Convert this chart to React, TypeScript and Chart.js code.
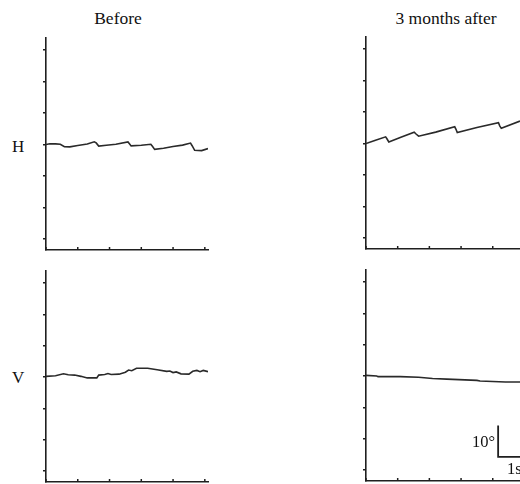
import React, { useEffect, useRef } from "react";
import { Chart, registerables } from "chart.js";

Chart.register(...registerables);

// ---- data ----
const xTicks = [0, 1, 2, 3, 4, 5]; // seconds
const yTicks = [-30, -20, -10, 0, 10, 20, 30]; // degrees

const beforeH_t = [0, 0.12, 0.3, 0.45, 0.58, 0.75, 1.0, 1.3, 1.52, 1.58, 1.66, 1.9, 2.2, 2.58, 2.62, 2.68, 3.0, 3.3, 3.35, 3.42, 3.7, 4.0, 4.3, 4.55, 4.6, 4.68, 4.9, 5.1];
const beforeH_v = [0, 0.25, 0.2, 0.05, -0.7, -0.75, -0.3, 0.15, 0.85, 0.5, -0.5, -0.25, 0.05, 0.8, 0.3, -0.45, -0.25, 0.05, -0.6, -1.55, -1.2, -0.65, -0.2, 0.45, -0.4, -1.85, -1.95, -1.3];

const afterH_t = [0, 0.3, 0.62, 0.66, 0.72, 1.1, 1.52, 1.58, 1.66, 2.2, 2.8, 2.84, 2.88, 3.5, 4.18, 4.22, 4.27, 4.86];
const afterH_v = [0, 1.0, 2.1, 1.5, 0.5, 2.0, 3.6, 3.0, 2.3, 3.6, 5.3, 4.5, 3.5, 5.1, 6.6, 5.6, 4.8, 7.1];

const beforeV_t = [0, 0.3, 0.55, 0.7, 0.9, 1.1, 1.3, 1.6, 1.66, 1.85, 1.95, 2.05, 2.3, 2.5, 2.6, 2.7, 2.85, 3.2, 3.5, 3.8, 3.9, 4.0, 4.1, 4.25, 4.5, 4.62, 4.75, 4.85, 4.95, 5.1];
const beforeV_v = [0.2, 0.4, 1.0, 0.7, 0.6, 0.2, -0.3, -0.3, 0.6, 0.8, 1.1, 0.8, 0.9, 1.5, 2.2, 2.0, 2.8, 2.8, 2.3, 1.8, 1.9, 1.4, 1.6, 1.0, 0.9, 1.8, 2.1, 1.7, 2.1, 1.7];

const afterV_t = [0, 0.34, 0.38, 1.08, 1.66, 2.1, 2.55, 3.5, 3.6, 4.4, 4.86];
const afterV_v = [0.2, 0.0, -0.2, -0.2, -0.4, -0.8, -1.0, -1.4, -1.6, -1.9, -1.9];

// scale bar (10 degrees by 1 second)
const barStartT = 4.17;
const barStartV = -25.8;
const barDeg = 10;
const barSec = 1;

const AXIS = "#1f1f1f";
const LINE = "#2a2a2a";

type PanelProps = {
  L: number; R: number; T: number; B: number;
  xMax: number; t: number[]; v: number[]; scaleBar?: boolean;
};

function Panel({ L, R, T, B, xMax, t, v, scaleBar }: PanelProps) {
  const ref = useRef<HTMLCanvasElement>(null);
  const padTop = 4, padRight = 2, yW = 10, xH = 8;
  const cw = R - L + yW + padRight;
  const ch = B - T + padTop + xH;

  useEffect(() => {
    if (!ref.current) return;
    const inTicks = {
      id: "inTicks",
      afterDraw(chart: any) {
        const ctx = chart.ctx;
        const xs = chart.scales.x;
        const ys = chart.scales.y;
        const a = chart.chartArea;
        ctx.save();
        ctx.strokeStyle = AXIS;
        ctx.lineWidth = 1.5;
        for (const tv of xTicks) {
          if (tv > xMax) continue;
          const px = xs.getPixelForValue(tv);
          ctx.beginPath();
          ctx.moveTo(px, a.bottom);
          ctx.lineTo(px, a.bottom - 3);
          ctx.stroke();
        }
        if (scaleBar) {
          const x0 = xs.getPixelForValue(barStartT);
          const x1 = xs.getPixelForValue(barStartT + barSec);
          const y0 = ys.getPixelForValue(barStartV);
          const y1 = ys.getPixelForValue(barStartV + barDeg);
          ctx.lineWidth = 1.8;
          ctx.beginPath();
          ctx.moveTo(x0, y1);
          ctx.lineTo(x0, y0);
          ctx.lineTo(x1, y0);
          ctx.stroke();
        }
        ctx.restore();
      },
    };
    const chart = new Chart(ref.current, {
      type: "line",
      data: {
        datasets: [
          {
            data: t.map((x, i) => ({ x, y: v[i] })),
            borderColor: LINE,
            borderWidth: 1.6,
            pointRadius: 0,
            tension: 0,
            fill: false,
          },
        ],
      },
      options: {
        animation: false,
        responsive: false,
        events: [],
        layout: { padding: { top: padTop, right: padRight, left: 0, bottom: 0 } },
        plugins: { legend: { display: false }, tooltip: { enabled: false }, title: { display: false } },
        scales: {
          x: {
            type: "linear",
            min: 0,
            max: xMax,
            afterFit: (s: any) => { s.height = xH; },
            afterBuildTicks: (s: any) => { s.ticks = xTicks.filter((q) => q <= xMax).map((value) => ({ value })); },
            ticks: { display: false },
            grid: { display: false },
            border: { display: true, color: AXIS, width: 1.6 },
          },
          y: {
            type: "linear",
            min: -33.5,
            max: 33.8,
            afterFit: (s: any) => { s.width = yW; },
            afterBuildTicks: (s: any) => { s.ticks = yTicks.map((value) => ({ value })); },
            ticks: { display: false },
            grid: { display: true, drawOnChartArea: false, drawTicks: true, tickLength: 3, color: AXIS, lineWidth: 1.5 },
            border: { display: true, color: AXIS, width: 1.6 },
          },
        },
      } as any,
      plugins: [inTicks],
    });
    return () => chart.destroy();
  }, []);

  return (
    <canvas
      ref={ref}
      width={cw}
      height={ch}
      style={{ position: "absolute", left: L - yW, top: T - padTop, width: cw, height: ch }}
    />
  );
}

const txt = (extra: React.CSSProperties): React.CSSProperties => ({
  position: "absolute",
  whiteSpace: "nowrap",
  fontFamily: '"Liberation Serif", "Times New Roman", serif',
  color: "#111",
  ...extra,
});

export default function App() {
  useEffect(() => {
    document.body.style.margin = "0";
    document.body.style.overflow = "hidden";
  }, []);
  return (
    <div style={{ position: "absolute", left: 0, top: 0, width: 520, height: 484, overflow: "hidden", background: "#fff" }}>
      <div style={txt({ left: 118, top: 10, transform: "translateX(-50%)", fontSize: 17.5, lineHeight: "17.5px" })}>Before</div>
      <div style={txt({ left: 446, top: 10, transform: "translateX(-50%)", fontSize: 17.5, lineHeight: "17.5px" })}>3 months after</div>
      <div style={txt({ left: 12, top: 138, fontSize: 17, lineHeight: "17px" })}>H</div>
      <div style={txt({ left: 12, top: 369, fontSize: 17, lineHeight: "17px" })}>V</div>

      <Panel L={46} R={208} T={38} B={250} xMax={5.1} t={beforeH_t} v={beforeH_v} />
      <Panel L={366} R={520} T={37} B={249} xMax={4.86} t={afterH_t} v={afterH_v} />
      <Panel L={46} R={208} T={271} B={482} xMax={5.1} t={beforeV_t} v={beforeV_v} />
      <Panel L={366} R={520} T={270} B={481} xMax={4.86} t={afterV_t} v={afterV_v} scaleBar />

      <div style={txt({ right: 520 - 495, top: 434, fontSize: 16.5, lineHeight: "16.5px" })}>10°</div>
      <div style={txt({ left: 507, top: 461, fontSize: 16.5, lineHeight: "16.5px" })}>1s</div>
    </div>
  );
}
